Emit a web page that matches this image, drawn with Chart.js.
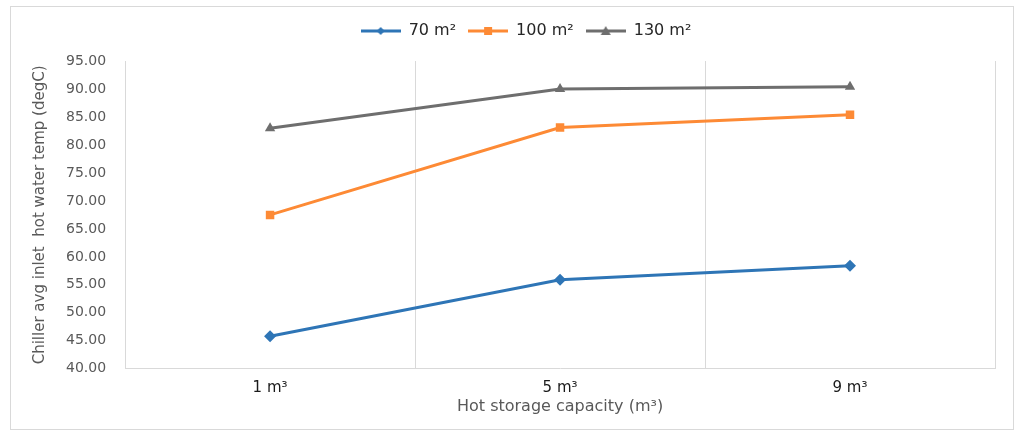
<!DOCTYPE html>
<html>
<head>
<meta charset="utf-8">
<script src="https://cdn.jsdelivr.net/npm/chart.js@4.4.0/dist/chart.umd.min.js"></script>
<style>
  body { margin: 0; background: #fff; }
  #frame {
    position: absolute; left: 10px; top: 6px;
    width: 1002px; height: 422px;
    border: 1px solid #d9d9d9;
  }
</style>
</head>
<body>
<div id="frame"><canvas id="chart"></canvas></div>
<script>
// Chart data
const categories = ['1 m\u00b3', '5 m\u00b3', '9 m\u00b3'];
const area70 = [45.8, 55.9, 58.4];
const area100 = [67.5, 83.1, 85.4];
const area130 = [83.0, 90.0, 90.4];
const seriesNames = ['70 m\u00b2', '100 m\u00b2', '130 m\u00b2'];
const yTicks = [40, 45, 50, 55, 60, 65, 70, 75, 80, 85, 90, 95];

const colors = ['#2e75b6', '#fd8a35', '#6e6e6e'];
const markers = ['rectRot', 'rect', 'triangle'];
const FONT = 'DejaVu Sans';

// small line + marker swatch for the legend
function legendSwatch(color, marker) {
    const c = document.createElement('canvas');
    c.width = 40;
    c.height = 12;
    const g = c.getContext('2d');
    g.strokeStyle = color;
    g.fillStyle = color;
    g.lineWidth = 3;
    g.beginPath();
    g.moveTo(0, 6);
    g.lineTo(40, 6);
    g.stroke();
    g.beginPath();
    if (marker === 'rectRot') {
        g.moveTo(20, 2); g.lineTo(24, 6); g.lineTo(20, 10); g.lineTo(16, 6);
    } else if (marker === 'rect') {
        g.rect(16, 2, 8, 8);
    } else {
        g.moveTo(20, 1); g.lineTo(25, 10); g.lineTo(15, 10);
    }
    g.closePath();
    g.fill();
    return c;
}

// extra gap under the legend and a small nudge to the right
const legendTweak = {
    id: 'legendTweak',
    beforeInit(chart) {
        const fit = chart.legend.fit;
        chart.legend.fit = function () {
            fit.call(this);
            this.height += 12;
        };
    },
    afterLayout(chart) {
        chart.legend.left += 13;
        chart.legend.right += 13;
    }
};

const seriesData = [area70, area100, area130];
const datasets = seriesData.map((values, i) => ({
    label: seriesNames[i],
    data: values,
    borderColor: colors[i],
    backgroundColor: colors[i],
    borderWidth: 3,
    pointStyle: markers[i],
    pointRadius: 6,
    pointBorderWidth: 0,
    tension: 0
}));

const ctx = document.getElementById('chart').getContext('2d');
new Chart(ctx, {
    type: 'line',
    data: { labels: categories, datasets: datasets },
    plugins: [legendTweak],
    options: {
        responsive: true,
        maintainAspectRatio: false,
        animation: false,
        layout: { padding: { left: 20, right: 18, top: 4, bottom: 9 } },
        plugins: {
            tooltip: { enabled: false },
            legend: {
                position: 'top',
                labels: {
                    usePointStyle: true,
                    pointStyleWidth: 40,
                    padding: 12,
                    color: '#262626',
                    font: { family: FONT, size: 16 },
                    generateLabels: (chart) => chart.data.datasets.map((ds, i) => ({
                        text: ds.label,
                        pointStyle: legendSwatch(colors[i], markers[i]),
                        fillStyle: colors[i],
                        strokeStyle: colors[i],
                        lineWidth: 0,
                        datasetIndex: i,
                        fontColor: '#262626'
                    }))
                }
            }
        },
        scales: {
            x: {
                offset: true,
                grid: { display: true, offset: true, drawTicks: false, color: '#d9d9d9', lineWidth: 1 },
                border: { display: true, color: '#d9d9d9' },
                ticks: { color: '#1a1a1a', padding: 10, font: { family: FONT, size: 15 } },
                title: {
                    display: true,
                    text: 'Hot storage capacity (m\u00b3)',
                    color: '#595959',
                    padding: { top: -10, bottom: 4 },
                    font: { family: FONT, size: 16 }
                }
            },
            y: {
                min: 40,
                max: 95,
                afterBuildTicks: (scale) => { scale.ticks = yTicks.map(v => ({ value: v })); },
                grid: { display: false },
                border: { display: true, color: '#d9d9d9' },
                ticks: {
                    color: '#595959',
                    padding: 11,
                    font: { family: FONT, size: 14 },
                    callback: (v) => Number(v).toFixed(2)
                },
                title: {
                    display: true,
                    text: 'Chiller avg inlet  hot water temp (degC)',
                    color: '#595959',
                    padding: { top: 0, bottom: 6 },
                    font: { family: FONT, size: 15 }
                }
            }
        }
    }
});
</script>
</body>
</html>
